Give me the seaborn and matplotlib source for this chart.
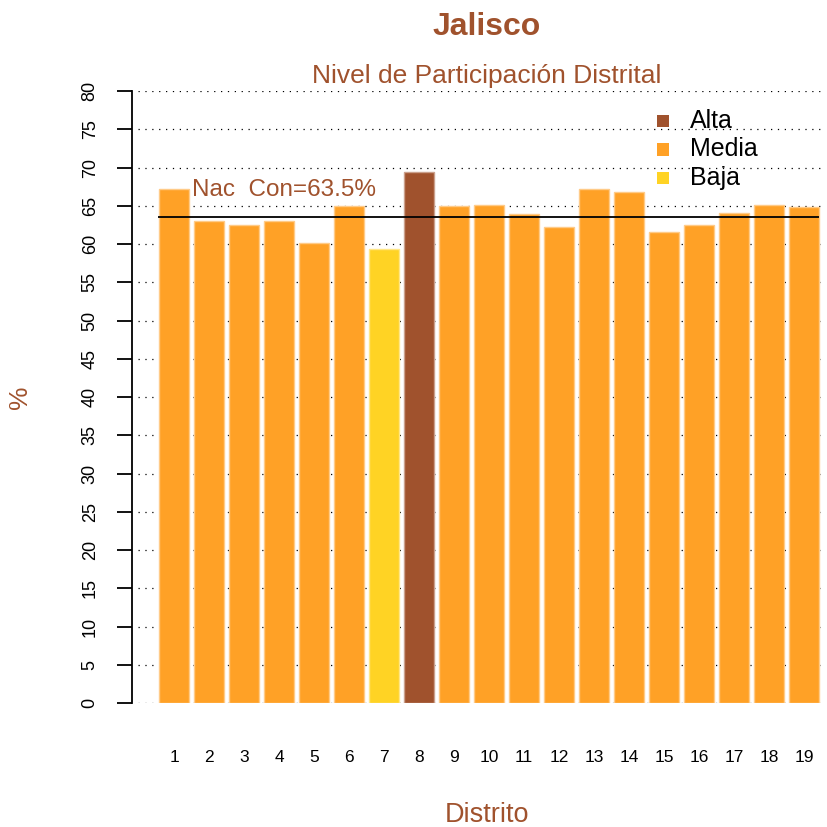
import numpy as np
import pandas as pd
import matplotlib
matplotlib.use("Agg")
import matplotlib.pyplot as plt
import matplotlib.colors as mcolors
from matplotlib.patches import Rectangle
import seaborn as sns

distritos = [str(i) for i in range(1, 20)]
participacion = [67.2, 63.0, 62.5, 63.0, 60.1, 65.0, 59.4, 69.4, 65.0, 65.1,
                 63.9, 62.2, 67.2, 66.8, 61.6, 62.5, 64.1, 65.1, 64.8]
nivel = ["Media", "Media", "Media", "Media", "Media", "Media", "Baja", "Alta", "Media", "Media",
         "Media", "Media", "Media", "Media", "Media", "Media", "Media", "Media", "Media"]
niveles = ["Alta", "Media", "Baja"]
colores = {"Alta": "#A0522D", "Media": "#FFA126", "Baja": "#FFD324"}
nacional = 63.5
yticks = list(range(0, 85, 5))

SIENNA = "#A0522D"
FONT = ["Liberation Sans", "DejaVu Sans"]

sns.set_style("white")
plt.rcParams["font.family"] = FONT

df = pd.DataFrame({"distrito": distritos, "pct": participacion, "nivel": nivel})

W, H = 828, 827
fig = plt.figure(figsize=(W / 100, H / 100), dpi=100)
ax = fig.add_axes([132 / W, (H - 703) / H, (822 - 132) / W, 612 / H])

# dotted reference lines behind the bars
ax.hlines(yticks, -1.03, 18.55, colors="black", linestyles=(0, (1, 4.5)),
          linewidth=0.9, zorder=0)

sns.barplot(data=df, x="distrito", y="pct", hue="nivel", order=distritos,
            hue_order=niveles, palette=colores, dodge=False, width=0.86,
            saturation=1, legend=False, ax=ax, zorder=2)

for p in ax.patches:
    fc = np.array(mcolors.to_rgb(p.get_facecolor()))
    p.set_edgecolor(tuple(fc * 0.55 + 0.45))
    p.set_linewidth(1.0)

ax.hlines(nacional, -0.45, 18.43, colors="black", linewidth=1.3, zorder=3)
ax.text(0.51, 67.1, f"Nac  Con={nacional}%", color=SIENNA, fontsize=17.5,
        ha="left", va="center", zorder=4)

ax.set_xlim(-1.2, 18.51)
ax.set_ylim(0, 80)
ax.set_yticks(yticks)
ax.set_yticklabels([str(v) for v in yticks], rotation=90, va="center", fontsize=13)
ax.tick_params(axis="y", left=True, length=11, width=1.3, pad=13, color="black",
               labelcolor="black")
ax.tick_params(axis="x", bottom=False, length=0, pad=34, labelcolor="black")
for lab in ax.get_xticklabels():
    lab.set_fontsize(12.5)

for s in ["top", "right", "bottom"]:
    ax.spines[s].set_visible(False)
ax.spines["left"].set_bounds(0, 80)
ax.spines["left"].set_linewidth(1.3)
ax.spines["left"].set_color("black")
ax.set_xlabel("")
ax.set_ylabel("")

# titles and axis labels
fig.text(487 / W, 1 - 27 / H, "Jalisco", color=SIENNA, fontsize=23,
         fontweight="bold", ha="center", va="center")
fig.text(487 / W, 1 - 76 / H, "Nivel de Participación Distrital", color=SIENNA,
         fontsize=19, ha="center", va="center")
fig.text(487 / W, 1 - 815 / H, "Distrito", color=SIENNA, fontsize=19.5,
         ha="center", va="center")
fig.text(20 / W, 1 - 397 / H, "%", color=SIENNA, fontsize=19,
         ha="center", va="center", rotation=90)

# legend
for i, lvl in enumerate(niveles):
    yc = 121 + i * 28.5
    fig.patches.append(Rectangle(((663 - 6) / W, 1 - (yc + 6) / H), 12 / W, 12 / H,
                                 transform=fig.transFigure, facecolor=colores[lvl],
                                 edgecolor="none"))
    fig.text(690 / W, 1 - yc / H, lvl, color="black", fontsize=18,
             ha="left", va="center")

fig.savefig("out.png", dpi=100)
